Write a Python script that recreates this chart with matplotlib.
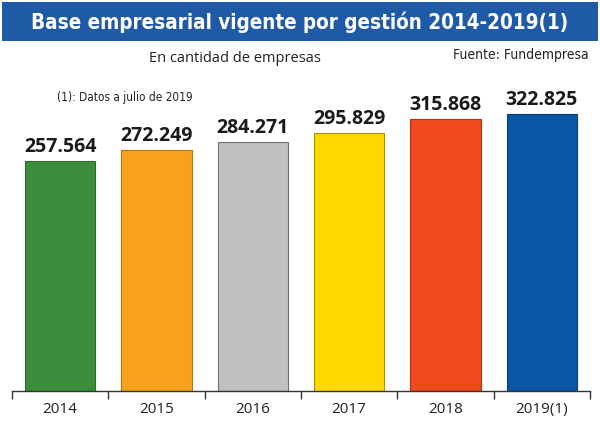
import matplotlib
matplotlib.use("Agg")
import matplotlib.pyplot as plt
from matplotlib.patches import Rectangle

years = ["2014", "2015", "2016", "2017", "2018", "2019(1)"]
empresas = [257564, 272249, 284271, 295829, 315868, 322825]
labels = ["257.564", "272.249", "284.271", "295.829", "315.868", "322.825"]
colors = ["#3b8d3b", "#f8a11b", "#bfc0c2", "#ffd800", "#ee4a1b", "#0b57a6"]
edges = ["#2d6b2d", "#b8770f", "#6f7072", "#a89000", "#a83612", "#083f78"]

y0 = -61700

fig = plt.figure(figsize=(6, 4.39), dpi=100)
fig.patch.set_facecolor("white")

# title banner
fig.patches.append(Rectangle((0.004, 1 - 42 / 439), 0.992, 39 / 439,
                             transform=fig.transFigure, facecolor="#1f5aa7",
                             edgecolor="none", zorder=0))
fig.text(0.5, 1 - 22 / 439, "Base empresarial vigente por gestión 2014-2019(1)",
         ha="center", va="center", color="white", fontsize=14.8,
         fontweight="bold", family="DejaVu Sans", fontstretch="condensed")
fig.text(0.392, 1 - 58 / 439, "En cantidad de empresas", ha="center",
         va="center", fontsize=10.5, family=["Open Sans", "DejaVu Sans"],
         color="#222222")
fig.text(0.982, 1 - 55 / 439, "Fuente: Fundempresa", ha="right", va="center",
         fontsize=10, family="DejaVu Sans", fontstretch="condensed",
         color="#222222")
fig.text(0.095, 1 - 98 / 439, "(1): Datos a julio de 2019", ha="left",
         va="center", fontsize=8.5, family="DejaVu Sans",
         fontstretch="condensed", color="#222222")

ax = fig.add_axes([12 / 600, 1 - 392 / 439, 578 / 600, 292 / 439])
x = list(range(len(years)))
heights = [v - y0 for v in empresas]
ax.bar(x, heights, bottom=y0, width=0.73, color=colors, edgecolor=edges,
       linewidth=0.8, zorder=2)

for xi, v, lab in zip(x, empresas, labels):
    ax.text(xi, v + 7000, lab, ha="center", va="bottom", fontsize=14,
            fontweight="bold", color="#1a1a1a",
            family=["Open Sans", "DejaVu Sans"])

ax.set_xlim(-0.5, len(years) - 0.5)
ax.set_ylim(y0, y0 + 292 * 1388)
ax.set_yticks([])
for s in ["left", "right", "top"]:
    ax.spines[s].set_visible(False)
ax.spines["bottom"].set_color("#333333")
ax.spines["bottom"].set_linewidth(1.0)

ax.set_xticks([i - 0.5 for i in range(len(years) + 1)])
ax.set_xticklabels([])
ax.tick_params(axis="x", length=6, width=1.0, color="#333333", direction="out")
ax.set_xticks(x, minor=True)
ax.set_xticklabels(years, minor=True, fontsize=11,
                   family=["Open Sans", "DejaVu Sans"], color="#222222")
ax.tick_params(axis="x", which="minor", length=0, pad=7)

fig.savefig("out.png", dpi=100)
